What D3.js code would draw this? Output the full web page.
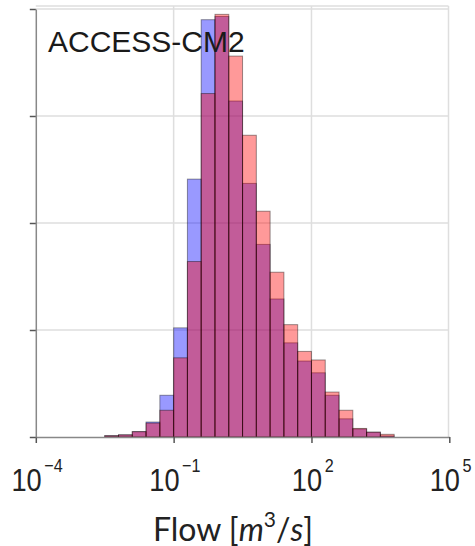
<!DOCTYPE html>
<html><head><meta charset="utf-8">
<script src="https://cdn.jsdelivr.net/npm/d3@7"></script>
<style>
html,body{margin:0;padding:0;background:#fff;}
svg{display:block;}
</style></head>
<body>
<svg id="chart" width="475" height="546"></svg>
<script>
// Bin edges are in log10 units (bin width 0.3 decades)
const binStartLog = -2.5;
const binWidthLog = 0.3;
// Histogram heights (arbitrary density units; y ticks at 0,10,20,30,40)
const blueValues = [0.12, 0.2, 0.5, 1.4, 3.9, 10.2, 24.1, 39.0, 39.3, 31.4, 23.7, 18.0, 12.9, 8.8, 7.1, 6.0, 3.9, 1.7, 0.75, 0.45, 0.1];
const redValues  = [0.12, 0.2, 0.5, 1.3, 2.5, 7.4, 16.4, 32.1, 39.5, 35.6, 28.2, 21.1, 15.4, 10.5, 8.0, 7.2, 4.2, 2.5, 0.8, 0.45, 0.25];
const xTickExponents = [-4, -1, 2, 5];
const yTickValues = [0, 10, 20, 30, 40];
const modelName = "ACCESS-CM2";

const svg = d3.select("#chart");
const x = d3.scaleLog().domain([1e-4, 1e5]).range([35.8, 449.3]);
const y = d3.scaleLinear().domain([0, 40]).range([437, 9]);

const pLeft = 35.8, pRight = 448.5, pTop = 6, pBottom = 437;

// grid
const grid = svg.append("g").attr("stroke", "#dedede").attr("stroke-width", 1.5);
grid.selectAll("line.v").data(xTickExponents.slice(1, 3)).join("line")
  .attr("x1", d => x(Math.pow(10, d))).attr("x2", d => x(Math.pow(10, d)))
  .attr("y1", pTop).attr("y2", pBottom);
grid.selectAll("line.h").data(yTickValues.slice(1)).join("line")
  .attr("x1", pLeft).attr("x2", pRight)
  .attr("y1", d => y(d)).attr("y2", d => y(d));
grid.append("line").attr("x1", pLeft).attr("x2", pRight).attr("y1", pTop).attr("y2", pTop);
grid.append("line").attr("x1", pRight).attr("x2", pRight).attr("y1", pTop).attr("y2", pBottom);

// bars
function bins(values) {
  return values.map((v, i) => ({
    x0: Math.pow(10, binStartLog + i * binWidthLog),
    x1: Math.pow(10, binStartLog + (i + 1) * binWidthLog),
    v: v
  }));
}
function drawBars(values, color) {
  svg.append("g").selectAll("rect").data(bins(values)).join("rect")
    .attr("x", d => x(d.x0))
    .attr("width", d => x(d.x1) - x(d.x0))
    .attr("y", d => y(d.v))
    .attr("height", d => y(0) - y(d.v))
    .attr("fill", color).attr("fill-opacity", 0.4)
    .attr("stroke", "#000").attr("stroke-opacity", 0.4).attr("stroke-width", 1);
}
drawBars(blueValues, "rgb(0,0,255)");
drawBars(redValues, "rgb(255,0,0)");

// axes
const xAxis = d3.axisBottom(x).tickValues(xTickExponents.map(e => Math.pow(10, e)))
  .tickFormat("").tickSize(6).tickSizeOuter(0);
const gx = svg.append("g").attr("transform", `translate(0,${pBottom})`).call(xAxis);
gx.select(".domain").attr("stroke", "#888").attr("stroke-width", 1.5);
gx.selectAll(".tick line").attr("stroke", "#555").attr("stroke-width", 1.5);

const yAxis = d3.axisLeft(y).tickValues(yTickValues).tickFormat("").tickSize(6).tickSizeOuter(0);
const gy = svg.append("g").attr("transform", `translate(${pLeft},0)`).call(yAxis);
gy.select(".domain").attr("stroke", "#888").attr("stroke-width", 1.5);
gy.selectAll(".tick line").attr("stroke", "#555").attr("stroke-width", 1.5);

// x tick labels 10^n
xTickExponents.forEach(e => {
  const g = svg.append("g");
  const t = g.append("text")
    .attr("font-family", "Liberation Sans, Arial, sans-serif")
    .attr("fill", "#222");
  t.append("tspan").attr("font-size", 32).text("10");
  t.append("tspan").attr("font-size", 19).attr("dx", 3).attr("dy", -19)
    .text(e < 0 ? "\u2212" + Math.abs(e) : String(e));
  const w = t.node().getComputedTextLength();
  const s = 0.85;
  g.attr("transform", `translate(${x(Math.pow(10, e)) - w * s / 2},491) scale(${s},1)`);
});

// model label
svg.append("text").attr("x", 48).attr("y", 51.5)
  .attr("font-family", "Liberation Sans, Arial, sans-serif")
  .attr("font-size", 30).attr("fill", "#1a1a1a").text(modelName);

// axis title
const xt = svg.append("text").attr("x", 233).attr("y", 540.5)
  .attr("text-anchor", "middle")
  .attr("font-family", "Lato, 'Open Sans', sans-serif")
  .attr("font-size", 32).attr("fill", "#222");
xt.append("tspan").text("Flow [");
xt.append("tspan").attr("font-style", "italic").text("m");
xt.append("tspan").attr("font-size", 21).attr("dy", -14).text("3");
xt.append("tspan").attr("dy", 14).text("/");
xt.append("tspan").attr("font-style", "italic").text("s");
xt.append("tspan").text("]");
</script>
</body></html>
